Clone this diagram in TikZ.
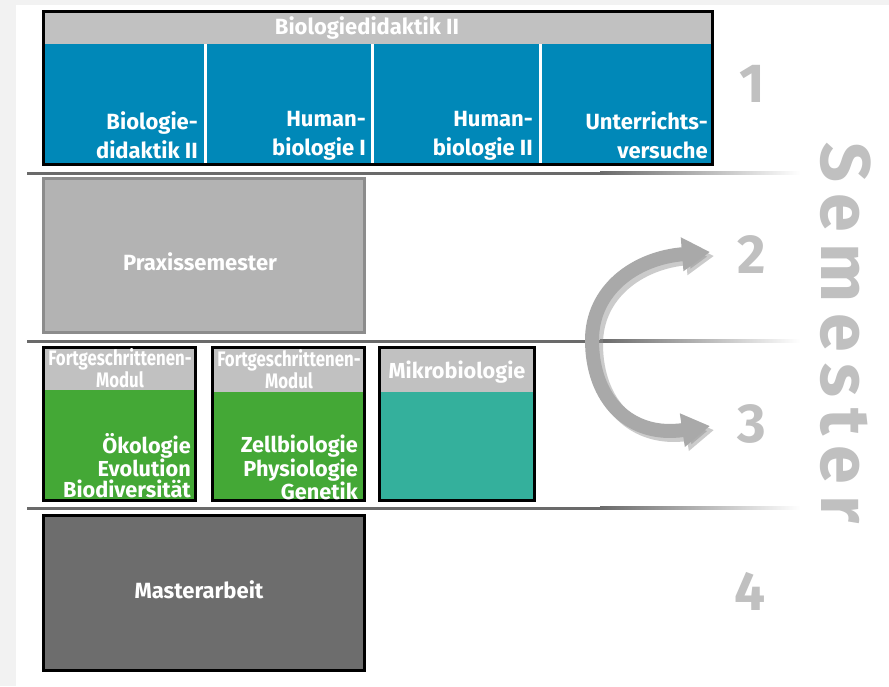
\documentclass[tikz,border=0pt]{standalone}
\usepackage{fontspec}
\setmainfont{Fira Sans}
\newfontfamily\xcond[FakeStretch=0.8]{Fira Sans}
\newfontfamily\spaced[LetterSpace=16]{Fira Sans}
\usetikzlibrary{arrows.meta}
\definecolor{bgc}{HTML}{F2F2F2}
\definecolor{hdr}{HTML}{C1C1C1}
\definecolor{blu}{HTML}{0088B8}
\definecolor{grn}{HTML}{44A836}
\definecolor{tealc}{HTML}{34B09C}
\definecolor{praxfill}{HTML}{B3B3B3}
\definecolor{praxline}{HTML}{8C8C8C}
\definecolor{mast}{HTML}{6D6D6D}
\definecolor{numc}{HTML}{C0C0C0}
\definecolor{arrc}{HTML}{A9A9A9}
\definecolor{sepc}{HTML}{6A6A6A}
\tikzset{
  frame/.style={draw=black,line width=3pt},
  coltext/.style={text=white,font=\bfseries\fontsize{22}{29}\selectfont,align=right,inner sep=0pt,anchor=north east},
  grntext/.style={text=white,font=\bfseries\fontsize{21.7}{21}\selectfont,align=right,inner sep=0pt,anchor=north east},
  hdrtext/.style={text=white,font=\xcond\bfseries\fontsize{21}{19}\selectfont,align=center,inner sep=0pt},
  boxtext/.style={text=white,font=\bfseries\fontsize{22}{22}\selectfont,inner sep=0pt},
  numtext/.style={text=numc,font=\bfseries\fontsize{55}{55}\selectfont,inner sep=0pt},
}
\begin{document}
\begin{tikzpicture}[x=1pt,y=-1pt]
\useasboundingbox (0,0) rectangle (889,686);
\fill[bgc] (0,0) rectangle (889,686);
\fill[white] (16,5) rectangle (889,686);
% separator lines
\foreach \yy in {173,341,508}{
  \fill[sepc] (27,\yy-1.5) rectangle (600,\yy+1.5);
  \shade[left color=sepc,right color=white] (600,\yy-1.5) rectangle (800,\yy+1.5);
}
% semester 1
\fill[blu] (42,10) rectangle (714,166);
\fill[hdr] (42,10) rectangle (714,44);
\foreach \xx in {205.5,372.5,540.5}{\fill[white] (\xx-1.5,44) rectangle (\xx+1.5,166);}
\draw[frame] (43.5,11.5) rectangle (712.5,164.5);
\node[boxtext] (bd) at (367,28) {Biologiedidaktik II};
\node[coltext] (c1) at (198,111) {Biologie-\\didaktik II};
\node[coltext] (c2) at (366,111) {Human-\\biologie I};
\node[coltext] (c3) at (533,111) {Human-\\biologie II};
\node[coltext] (c4) at (708,111) {Unterrichts-\\versuche};
% semester 2
\fill[praxfill] (42,177) rectangle (366,334);
\draw[praxline,line width=3pt] (43.5,178.5) rectangle (364.5,332.5);
\node[boxtext] (px) at (200,262) {Praxissemester};
% semester 3
\fill[grn] (42,346) rectangle (197,502);
\fill[hdr] (42,346) rectangle (197,390);
\draw[frame] (43.5,347.5) rectangle (195.5,500.5);
\node[hdrtext] (h1) at (120,368) {Fortgeschrittenen-\\Modul};
\node[grntext] (g1) at (191,433) {Ökologie\\Evolution\\Biodiversität};
\fill[grn] (211,346) rectangle (366,502);
\fill[hdr] (211,346) rectangle (366,392);
\draw[frame] (212.5,347.5) rectangle (364.5,500.5);
\node[hdrtext] (h2) at (289,369) {Fortgeschrittenen-\\Modul};
\node[grntext] (g2) at (358,435) {Zellbiologie\\Physiologie\\Genetik};
\fill[tealc] (378,346) rectangle (536,502);
\fill[hdr] (378,346) rectangle (536,392);
\draw[frame] (379.5,347.5) rectangle (534.5,500.5);
\node[text=white,font=\bfseries\fontsize{21.7}{22}\selectfont,inner sep=0pt] (mb) at (457,372) {Mikrobiologie};
% semester 4
\fill[mast] (42,514) rectangle (366,672);
\draw[frame] (43.5,515.5) rectangle (364.5,670.5);
\node[boxtext] (ma) at (199,590) {Masterarbeit};
% numbers
\node[numtext] (n1) at (752,84) {1};
\node[numtext] (n2) at (752,255) {2};
\node[numtext] (n3) at (752,424) {3};
\node[numtext] (n4) at (750,591) {4};
\node[text=numc,font=\spaced\bfseries\fontsize{70}{70}\selectfont,rotate=-90,inner sep=0pt] (sem) at (846,333) {Semester};
% arrow
\coordinate (atop) at (710,252);
\coordinate (abot) at (710,426);
\draw[black!45,opacity=0.45,line width=14pt,{Triangle[length=28pt,width=32pt]}-{Triangle[length=28pt,width=32pt]}]
  ([shift={(4,4)}]atop) .. controls (639,262) and (596,294) .. (596,344) .. controls (596,404) and (634,442) .. ([shift={(4,4)}]abot);
\draw[arrc,line width=14pt,{Triangle[length=28pt,width=32pt]}-{Triangle[length=28pt,width=32pt]}]
  (atop) .. controls (635,258) and (592,290) .. (592,340) .. controls (592,400) and (630,438) .. (abot);
\end{tikzpicture}
\end{document}
